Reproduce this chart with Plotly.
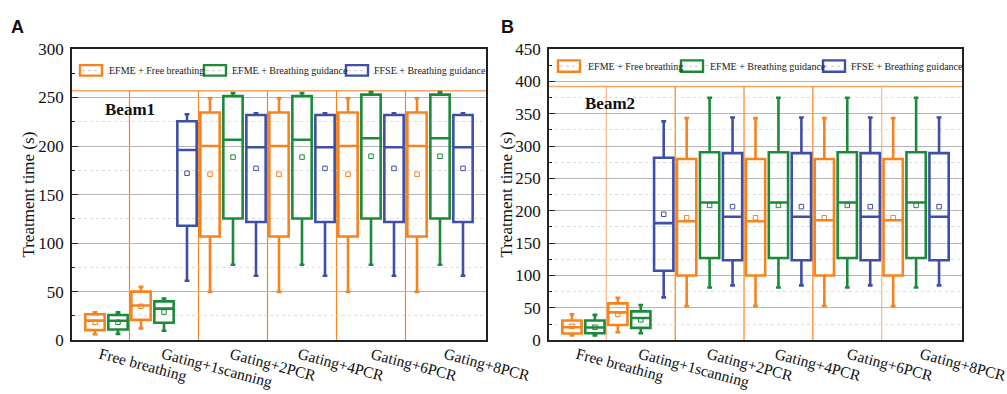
import plotly.graph_objects as go

W, H = 1007, 394

# ---------------- data ----------------
categories = ["Free breathing", "Gating+1scanning", "Gating+2PCR",
              "Gating+4PCR", "Gating+6PCR", "Gating+8PCR"]
series_names = ["EFME + Free breathing", "EFME + Breathing guidance",
                "FFSE + Breathing guidance"]

# Panel A (Beam1) box statistics: lower fence, q1, median, q3, upper fence, mean
a_orange_lf = [6.2, 12.0, 49.8, 49.8, 49.8, 49.8]
a_orange_q1 = [10.4, 21.0, 106.8, 106.8, 106.8, 106.8]
a_orange_md = [20.2, 35.8, 200.0, 200.0, 200.0, 200.0]
a_orange_q3 = [26.7, 50.0, 234.6, 234.6, 234.6, 234.6]
a_orange_uf = [28.7, 55.0, 249.3, 249.3, 249.3, 249.3]
a_orange_mn = [18.5, 35.0, 171.0, 171.0, 171.0, 171.0]

a_green_lf = [6.5, 9.8, 77.8, 77.8, 77.8, 77.8]
a_green_q1 = [11.0, 18.0, 125.4, 125.4, 125.4, 125.4]
a_green_md = [20.0, 32.5, 206.5, 206.5, 208.0, 208.0]
a_green_q3 = [26.0, 40.0, 251.6, 251.6, 253.0, 253.0]
a_green_uf = [28.7, 43.0, 254.6, 254.6, 255.5, 255.5]
a_green_mn = [18.5, 29.0, 188.6, 188.6, 189.5, 189.5]

a_blue_lf = [61.2, 66.4, 66.4, 66.4, 66.4]
a_blue_q1 = [117.9, 121.8, 121.8, 121.8, 121.8]
a_blue_md = [196.0, 198.7, 198.7, 198.7, 198.7]
a_blue_q3 = [225.5, 232.0, 232.0, 232.0, 232.0]
a_blue_uf = [232.7, 233.7, 233.7, 233.7, 233.7]
a_blue_mn = [172.0, 177.0, 177.0, 177.0, 177.0]

# Panel B (Beam2)
b_orange_lf = [7.4, 12.3, 52.9, 52.9, 52.9, 52.9]
b_orange_q1 = [10.3, 23.5, 100.0, 100.0, 100.0, 100.0]
b_orange_md = [20.1, 43.0, 183.8, 183.8, 185.3, 185.3]
b_orange_q3 = [30.4, 56.9, 280.0, 280.0, 280.0, 280.0]
b_orange_uf = [40.2, 65.7, 343.1, 343.1, 343.1, 343.1]
b_orange_mn = [21.6, 40.0, 189.2, 189.2, 189.2, 189.2]

b_green_lf = [7.4, 10.8, 81.4, 81.4, 81.4, 81.4]
b_green_q1 = [10.8, 19.1, 127.0, 127.0, 127.0, 127.0]
b_green_md = [19.6, 34.3, 212.7, 212.7, 212.7, 212.7]
b_green_q3 = [30.4, 44.6, 290.4, 290.4, 290.4, 290.4]
b_green_uf = [39.2, 54.4, 374.6, 374.6, 374.6, 374.6]
b_green_mn = [20.0, 31.4, 208.3, 208.3, 208.3, 208.3]

b_blue_lf = [66.2, 84.8, 84.8, 84.8, 84.8]
b_blue_q1 = [107.4, 123.5, 123.5, 123.5, 123.5]
b_blue_md = [180.9, 190.7, 190.7, 190.7, 190.7]
b_blue_q3 = [282.0, 289.0, 289.0, 289.0, 289.0]
b_blue_uf = [338.2, 344.0, 344.0, 344.0, 344.0]
b_blue_mn = [194.6, 206.4, 206.4, 206.4, 206.4]

y_ticks_a = [0, 50, 100, 150, 200, 250, 300]
y_ticks_b = [0, 50, 100, 150, 200, 250, 300, 350, 400, 450]
top_line_a = 257
top_line_b = 392
beam_labels = ["Beam1", "Beam2"]

# ---------------- layout constants ----------------
orange_slots = [0, 2, 5, 8, 11, 14]
green_slots = [1, 3, 6, 9, 12, 15]
blue_slots = [4, 7, 10, 13, 16]
sep_slots = [1.5, 4.5, 7.5, 10.5, 13.5]
xlabel_slots = [0.0, 2.7, 5.7, 8.65, 11.8, 15.0]

COL = {"orange": "#F7821E", "green": "#1C8A3B", "blue": "#3F4FA8"}
SERIF = "Liberation Serif"

fig = go.Figure()


def add_boxes(xa, ya, slots, lf, q1, md, q3, uf, mn, color, name):
    fig.add_trace(go.Box(
        x=slots, lowerfence=lf, q1=q1, median=md, q3=q3, upperfence=uf,
        xaxis=xa, yaxis=ya, width=0.84, whiskerwidth=0.25,
        line=dict(color=color, width=2.6), fillcolor="rgba(255,255,255,0)",
        boxpoints=False, name=name, showlegend=False, hoverinfo="skip"))
    fig.add_trace(go.Scatter(
        x=slots, y=mn, xaxis=xa, yaxis=ya, mode="markers",
        marker=dict(symbol="square-open", size=4.5, color=color, line=dict(width=1)),
        showlegend=False, hoverinfo="skip"))


add_boxes("x", "y", orange_slots, a_orange_lf, a_orange_q1, a_orange_md, a_orange_q3,
          a_orange_uf, a_orange_mn, COL["orange"], series_names[0])
add_boxes("x", "y", green_slots, a_green_lf, a_green_q1, a_green_md, a_green_q3,
          a_green_uf, a_green_mn, COL["green"], series_names[1])
add_boxes("x", "y", blue_slots, a_blue_lf, a_blue_q1, a_blue_md, a_blue_q3,
          a_blue_uf, a_blue_mn, COL["blue"], series_names[2])
add_boxes("x2", "y2", orange_slots, b_orange_lf, b_orange_q1, b_orange_md, b_orange_q3,
          b_orange_uf, b_orange_mn, COL["orange"], series_names[0])
add_boxes("x2", "y2", green_slots, b_green_lf, b_green_q1, b_green_md, b_green_q3,
          b_green_uf, b_green_mn, COL["green"], series_names[1])
add_boxes("x2", "y2", blue_slots, b_blue_lf, b_blue_q1, b_blue_md, b_blue_q3,
          b_blue_uf, b_blue_mn, COL["blue"], series_names[2])

# pixel geometry of the two panels
pa = dict(x0=72, x1=486)
pb = dict(x0=549, x1=962)
py0, py1 = 42, 348


def px_x(p):
    return p / W


def px_y(p):
    return 1 - p / H


xcommon = dict(range=[-1, 17], showticklabels=False, ticks="", showgrid=False,
               zeroline=False, showline=True, mirror=True, linecolor="#222",
               linewidth=1.5)
ycommon = dict(tickmode="array", ticks="inside", ticklen=6, tickwidth=1.2,
               tickcolor="#222", showgrid=True, gridcolor="#b5b5b5", gridwidth=1,
               zeroline=False, showline=True, mirror=True, linecolor="#222",
               linewidth=1.5, tickfont=dict(family=SERIF, size=17, color="#111"),
               ticklabelstandoff=3,
               minor=dict(dtick=25, ticks="inside", ticklen=3, tickcolor="#222",
                          showgrid=True, gridcolor="#dcdcdc", griddash="dot"))

fig.update_layout(
    width=W, height=H, margin=dict(l=0, r=0, t=0, b=0),
    font=dict(family=SERIF, color="#111"),
    plot_bgcolor="white", paper_bgcolor="white", showlegend=False,
    xaxis=dict(domain=[px_x(pa["x0"]), px_x(pa["x1"])], anchor="y", **xcommon),
    yaxis=dict(domain=[px_y(py1), px_y(py0)], anchor="x", range=[0, 300],
               tickvals=y_ticks_a, **ycommon),
    xaxis2=dict(domain=[px_x(pb["x0"]), px_x(pb["x1"])], anchor="y2", **xcommon),
    yaxis2=dict(domain=[px_y(py1), px_y(py0)], anchor="x2", range=[0, 450],
                tickvals=y_ticks_b, **ycommon),
)

shapes = []
annotations = []

# separators and top line
for xa, ya, top, sep_cols in [("x", "y", top_line_a, ["#F7821E"] * 5),
                              ("x2", "y2", top_line_b,
                               ["#F9B48A", "#F7821E", "#F7821E", "#F7821E", "#F9B48A"])]:
    for s, c in zip(sep_slots, sep_cols):
        shapes.append(dict(type="line", xref=xa, yref=ya, x0=s, x1=s, y0=0, y1=top,
                           line=dict(color=c, width=1.2), layer="below"))
    shapes.append(dict(type="line", xref=xa + " domain", yref=ya, x0=0, x1=1,
                       y0=top, y1=top, line=dict(color="#F9A868", width=1.5),
                       layer="below"))

# custom legends (pixel positions)
legend_rows = [
    dict(y0=59, y1=70, items=[(80, 107), (204, 230), (346, 372)]),
    dict(y0=54, y1=66, items=[(558, 586), (681, 708), (823, 849)]),
]
cols = [COL["orange"], COL["green"], COL["blue"]]
for row in legend_rows:
    for (rx, tx), c, nm in zip(row["items"], cols, series_names):
        shapes.append(dict(type="rect", xref="paper", yref="paper",
                           x0=px_x(rx), x1=px_x(rx + 22),
                           y0=px_y(row["y1"]), y1=px_y(row["y0"]),
                           line=dict(color=c, width=2.4), fillcolor="white"))
        ym = (row["y0"] + row["y1"]) / 2
        shapes.append(dict(type="line", xref="paper", yref="paper",
                           x0=px_x(rx + 2), x1=px_x(rx + 20),
                           y0=px_y(ym), y1=px_y(ym),
                           line=dict(color="#cccccc", width=1, dash="dot")))
        annotations.append(dict(text=nm, xref="paper", yref="paper",
                                x=px_x(tx), y=px_y(ym), xanchor="left",
                                yanchor="middle", showarrow=False,
                                font=dict(family=SERIF, size=10, color="#222")))

# x tick labels (rotated)
for xa in ["x", "x2"]:
    for pos, lab in zip(xlabel_slots, categories):
        annotations.append(dict(text=lab, xref=xa, yref="paper", x=pos,
                                y=px_y(350), xanchor="left", yanchor="top",
                                textangle=15, showarrow=False,
                                font=dict(family=SERIF, size=15.5, color="#111")))

# y titles
for cx in [29, 507]:
    annotations.append(dict(text="Treatment time (s)", xref="paper", yref="paper",
                            x=px_x(cx), y=px_y(195), xanchor="center",
                            yanchor="middle", textangle=-90, showarrow=False,
                            font=dict(family=SERIF, size=17, color="#111")))

# beam labels
annotations.append(dict(text="<b>%s</b>" % beam_labels[0], xref="paper", yref="paper",
                        x=px_x(103), y=px_y(106), xanchor="left", yanchor="middle",
                        showarrow=False, font=dict(family=SERIF, size=17, color="#111")))
annotations.append(dict(text="<b>%s</b>" % beam_labels[1], xref="paper", yref="paper",
                        x=px_x(583), y=px_y(99), xanchor="left", yanchor="middle",
                        showarrow=False, font=dict(family=SERIF, size=17, color="#111")))

# panel letters
for lab, lx in [("A", 9), ("B", 499)]:
    annotations.append(dict(text="<b>%s</b>" % lab, xref="paper", yref="paper",
                            x=px_x(lx), y=px_y(18.5), xanchor="left", yanchor="middle",
                            showarrow=False,
                            font=dict(family="Liberation Sans", size=18, color="#111")))

fig.update_layout(shapes=shapes, annotations=annotations)
fig.write_html("out.html")
